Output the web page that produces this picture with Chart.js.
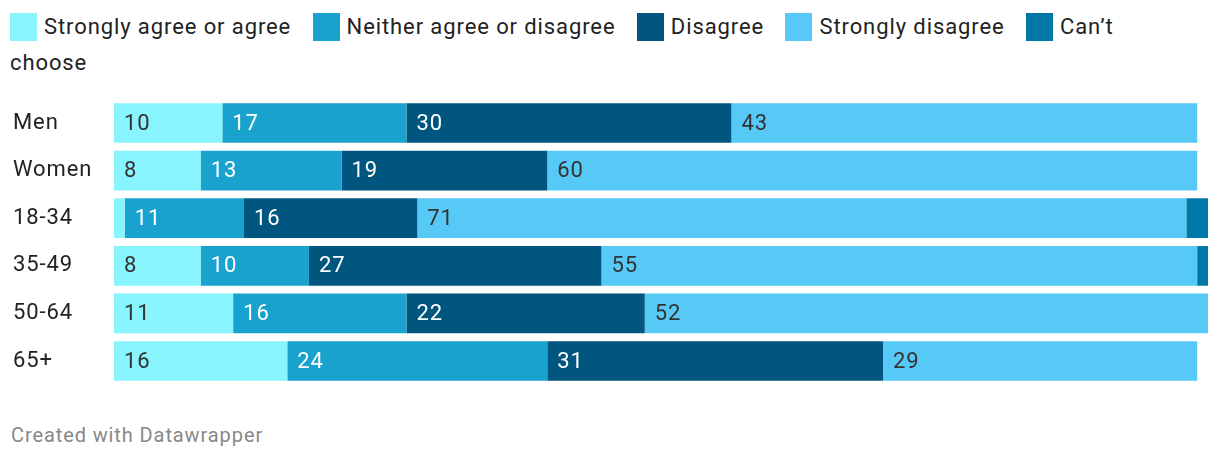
<!DOCTYPE html>
<html>
<head>
<meta charset="utf-8">
<script src="https://cdn.jsdelivr.net/npm/chart.js@4/dist/chart.umd.min.js"></script>
<style>
  html, body { margin: 0; padding: 0; background: #fff; width: 1220px; height: 460px; overflow: hidden; font-family: Roboto, sans-serif; }
  #legend { position: absolute; left: 10px; top: 9px; width: 1160px; font-size: 22px; letter-spacing: 0.9px; line-height: 36px; color: #222; }
  .item { white-space: normal; margin-right: 15px; }
  .sw { display: inline-block; width: 27px; height: 28px; vertical-align: -7px; margin-right: 7px; }
  #wrap { position: absolute; left: 0; top: 86px; width: 1220px; height: 312px; }
  #footer { position: absolute; left: 11px; top: 423px; font-size: 20px; letter-spacing: 0.9px; color: #888; }
</style>
</head>
<body>
<div id="legend"></div>
<div id="wrap"><canvas id="c"></canvas></div>
<div id="footer">Created with Datawrapper</div>
<script>
const categories = ["Men", "Women", "18-34", "35-49", "50-64", "65+"];
const seriesNames = ["Strongly agree or agree", "Neither agree or disagree", "Disagree", "Strongly disagree", "Can\u2019t choose"];
const agree = [10, 8, 1, 8, 11, 16];
const neither = [17, 13, 11, 10, 16, 24];
const disagree = [30, 19, 16, 27, 22, 31];
const stronglyDisagree = [43, 60, 71, 55, 52, 29];
const cantChoose = [0, 0, 2, 1, 0, 0];
const colors = ["#88f4fd", "#1aa2cf", "#00567e", "#57c9f6", "#0078a8"];
const labelColors = ["#333333", "#ffffff", "#ffffff", "#333333", "#ffffff"];
const seriesValues = [agree, neither, disagree, stronglyDisagree, cantChoose];

// HTML legend
const legend = document.getElementById('legend');
seriesNames.forEach((n, i) => {
  const s = document.createElement('span');
  s.className = 'item';
  s.innerHTML = '<span class="sw" style="background:' + colors[i] + '"></span>' + n;
  legend.appendChild(s);
  legend.appendChild(document.createTextNode(' '));
});

const spacing = {
  id: 'spacing',
  beforeDraw(chart) { chart.ctx.letterSpacing = '0.9px'; }
};

const valueLabels = {
  id: 'valueLabels',
  afterDatasetsDraw(chart) {
    const ctx = chart.ctx;
    ctx.save();
    ctx.letterSpacing = '0.9px';
    ctx.font = '22px Roboto, sans-serif';
    ctx.textBaseline = 'middle';
    ctx.textAlign = 'left';
    chart.data.datasets.forEach((ds, di) => {
      const meta = chart.getDatasetMeta(di);
      meta.data.forEach((el, i) => {
        const v = ds.data[i];
        if (v < 3) return;
        const left = Math.min(el.x, el.base);
        ctx.fillStyle = labelColors[di];
        ctx.fillText(String(v), left + 10, el.y + 1);
      });
    });
    ctx.restore();
  }
};

new Chart(document.getElementById('c'), {
  type: 'bar',
  data: {
    labels: categories,
    datasets: seriesValues.map((vals, i) => ({
      label: seriesNames[i],
      data: vals,
      backgroundColor: colors[i],
      borderWidth: 0,
      barPercentage: 1,
      categoryPercentage: 40 / 48
    }))
  },
  options: {
    indexAxis: 'y',
    responsive: true,
    maintainAspectRatio: false,
    animation: false,
    layout: { padding: { left: 13, right: 12, top: 0, bottom: 0 } },
    plugins: { legend: { display: false }, tooltip: { enabled: false } },
    scales: {
      x: { stacked: true, min: 0, max: 101, display: false },
      y: {
        stacked: true,
        grid: { display: false },
        border: { display: false },
        ticks: { crossAlign: 'far', color: '#222', font: { family: 'Roboto', size: 22 }, padding: 0 },
        afterFit(scale) { scale.width = 101; }
      }
    }
  },
  plugins: [spacing, valueLabels]
});
</script>
</body>
</html>
